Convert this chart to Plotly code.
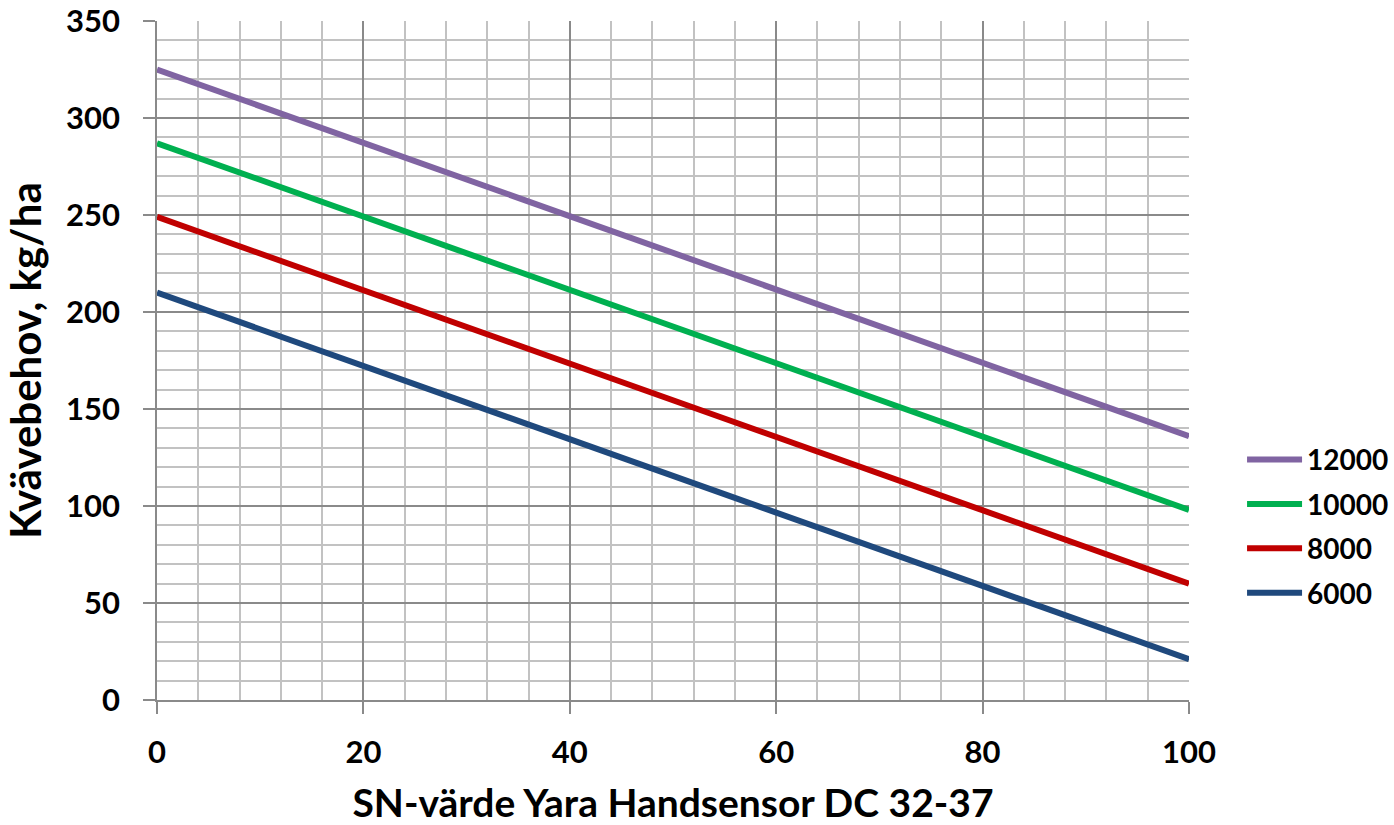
import plotly.graph_objects as go

# SN-värde (Yara Handsensor) endpoints and nitrogen requirement per yield level
sn_values = [0, 100]
yield_levels = ["12000", "10000", "8000", "6000"]
n_need = {
    "12000": [325, 136],
    "10000": [287, 98],
    "8000": [249, 60],
    "6000": [210, 21],
}
colors = {
    "12000": "#8064A2",
    "10000": "#00B050",
    "8000": "#C00000",
    "6000": "#1F497D",
}

FONT = "Lato"
fig = go.Figure()
for lvl in yield_levels:
    fig.add_trace(go.Scatter(
        x=sn_values, y=n_need[lvl], mode="lines", name=lvl,
        legendgroup=lvl,
        line=dict(color=colors[lvl], width=6),
    ))

major_grid = "#8a8a8a"
minor_grid = "#c2c2c2"

fig.update_layout(
    width=1394, height=825,
    margin=dict(l=157, r=205, t=21, b=125),
    paper_bgcolor="white", plot_bgcolor="white",
    font=dict(family=FONT, size=31, color="black"),
    showlegend=True,
    legend=dict(
        xref="container", yref="container",
        x=0.891, xanchor="left", y=0.362, yanchor="middle",
        font=dict(family=FONT, size=28, color="black", weight="bold"),
        itemwidth=55, tracegroupgap=5, traceorder="grouped",
        bgcolor="rgba(0,0,0,0)",
    ),
    xaxis=dict(
        range=[0, 100], dtick=20, tick0=0,
        showgrid=True, gridcolor=major_grid, gridwidth=1.5,
        minor=dict(dtick=4, showgrid=True, gridcolor=minor_grid, gridwidth=1.5),
        showline=True, linecolor=major_grid, linewidth=1.5,
        ticks="outside", ticklen=12, tickcolor=major_grid, tickwidth=1.5,
        tickfont=dict(family=FONT, size=31, weight="bold"),
        ticklabelstandoff=12,
        zeroline=False, automargin=False,
        title=dict(text="SN-värde Yara Handsensor DC 32-37",
                   font=dict(family=FONT, size=39, weight="bold"), standoff=24),
    ),
    yaxis=dict(
        range=[0, 350], dtick=50, tick0=0,
        showgrid=True, gridcolor=major_grid, gridwidth=1.5,
        minor=dict(dtick=10, showgrid=True, gridcolor=minor_grid, gridwidth=1.5),
        showline=True, linecolor=major_grid, linewidth=1.5,
        ticks="outside", ticklen=12, tickcolor=major_grid, tickwidth=1.5,
        tickfont=dict(family=FONT, size=31, weight="bold"),
        ticklabelstandoff=17,
        zeroline=False, automargin=False,
        title=dict(text="Kvävebehov, kg/ha",
                   font=dict(family=FONT, size=42, weight="bold"), standoff=14),
    ),
)

fig.write_html("out.html")
